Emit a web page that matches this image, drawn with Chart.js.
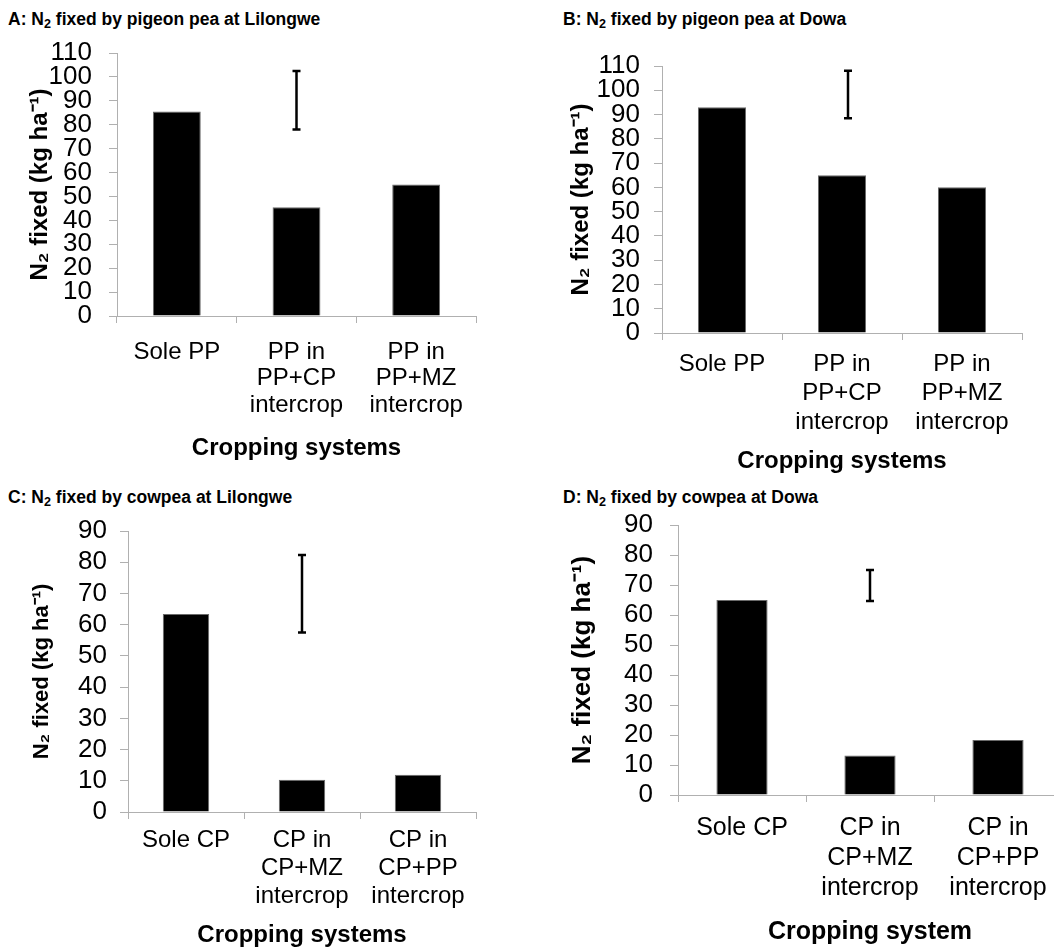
<!DOCTYPE html>
<html>
<head>
<meta charset="utf-8">
<script src="https://cdn.jsdelivr.net/npm/chart.js@4.4.0/dist/chart.umd.min.js"></script>
<style>
    html, body { margin: 0; padding: 0; background: #fff; overflow: hidden; width: 1054px; height: 947px; }
    .panel-title { position: absolute; font: bold 17.5px "Liberation Sans", Arial, sans-serif; color: #000; white-space: nowrap; line-height: 20px; }
    .panel-title sub { font-size: 0.72em; vertical-align: -0.25em; line-height: 0; }
    canvas { position: absolute; }
</style>
</head>
<body>
<div class="panel-title" style="left:8px;top:9px">A: N<sub>2</sub> fixed by pigeon pea at Lilongwe</div>
<div class="panel-title" style="left:563px;top:9px">B: N<sub>2</sub> fixed by pigeon pea at Dowa</div>
<div class="panel-title" style="left:8px;top:487px">C: N<sub>2</sub> fixed by cowpea at Lilongwe</div>
<div class="panel-title" style="left:563px;top:487px">D: N<sub>2</sub> fixed by cowpea at Dowa</div>
<canvas id="chartA"></canvas>
<canvas id="chartB"></canvas>
<canvas id="chartC"></canvas>
<canvas id="chartD"></canvas>
<script>
// categories
const ppCategories = ["Sole PP", ["PP in", "PP+CP", "intercrop"], ["PP in", "PP+MZ", "intercrop"]];
const cpCategories = ["Sole CP", ["CP in", "CP+MZ", "intercrop"], ["CP in", "CP+PP", "intercrop"]];

// N2 fixed (kg/ha)
const pigeonLilongwe = [85.5, 45.5, 55];
const pigeonDowa = [93, 65, 60];
const cowpeaLilongwe = [63.4, 10.3, 11.9];
const cowpeaDowa = [65, 13.2, 18.3];

// LSD bars [low, high]
const lsdA = [78, 102.5];
const lsdB = [88.5, 108];
const lsdC = [57.5, 82.3];
const lsdD = [64.7, 75];

// y axis ranges
const ppYMax = 110;
const cpYMax = 90;
const yStep = 10;

const FONT = "'Liberation Sans', Arial, sans-serif";
const AXIS_GREY = "#b0b0b0";

const lsdBar = {
    id: "lsdBar",
    afterDatasetsDraw(chart, args, opts) {
        if (!opts.range) return;
        const { ctx, scales: { x, y } } = chart;
        const px = x.getPixelForValue(opts.at);
        const top = y.getPixelForValue(opts.range[1]);
        const bot = y.getPixelForValue(opts.range[0]);
        ctx.save();
        ctx.strokeStyle = "#000";
        ctx.lineWidth = 2.5;
        ctx.beginPath();
        ctx.moveTo(px, top); ctx.lineTo(px, bot);
        ctx.moveTo(px - 4, top); ctx.lineTo(px + 4, top);
        ctx.moveTo(px - 4, bot); ctx.lineTo(px + 4, bot);
        ctx.stroke();
        ctx.restore();
    },
};

function makePanel(id, labels, values, lsd, p) {
    const canvas = document.getElementById(id);
    canvas.width = p.cw;
    canvas.height = p.ch;
    canvas.style.left = p.cl + "px";
    canvas.style.top = p.ct + "px";
    const yLh = p.yTitleSize * 1.2;
    const xLh = p.xTitleSize * 1.2;
    new Chart(canvas, {
        type: "bar",
        data: {
            labels: labels,
            datasets: [
                {
                    data: values,
                    backgroundColor: "#000",
                    borderColor: "#6a6a6a",
                    borderWidth: 1,
                    categoryPercentage: 0.4,
                    barPercentage: 1,
                },
            ],
        },
        plugins: [lsdBar],
        options: {
            responsive: false,
            animation: false,
            devicePixelRatio: 1,
            layout: {
                padding: { left: 0, top: p.top - p.ct, right: p.cl + p.cw - p.right, bottom: 0 },
            },
            plugins: {
                legend: { display: false },
                tooltip: { enabled: false },
                lsdBar: { range: lsd, at: p.lsdAt },
            },
            scales: {
                x: {
                    grid: { display: true, drawOnChartArea: false, drawTicks: true, tickLength: 7, color: AXIS_GREY, offset: true },
                    border: { color: AXIS_GREY, width: 1 },
                    ticks: {
                        color: "#000",
                        font: { family: FONT, size: p.xTickSize, lineHeight: p.xTickLh },
                        padding: p.xTickPad,
                        maxRotation: 0,
                        autoSkip: false,
                    },
                    title: {
                        display: true,
                        text: p.xTitle,
                        color: "#000",
                        font: { family: FONT, size: p.xTitleSize, weight: "bold", lineHeight: 1.2 },
                        padding: { top: 0, bottom: p.ct + p.ch - p.xTitleY - xLh / 2 },
                    },
                    afterFit(scale) {
                        scale.height = p.ct + p.ch - p.bottom;
                    },
                },
                y: {
                    min: 0,
                    max: p.yMax,
                    grid: { display: true, drawOnChartArea: false, drawTicks: true, tickLength: 8, color: AXIS_GREY },
                    border: { color: AXIS_GREY, width: 1 },
                    ticks: {
                        stepSize: yStep,
                        autoSkip: false,
                        maxTicksLimit: 20,
                        color: "#000",
                        font: { family: FONT, size: p.yTickSize, lineHeight: 1 },
                        padding: p.yTickPad,
                    },
                    title: {
                        display: true,
                        text: "N\u2082 fixed (kg ha\u207B\u00B9)",
                        color: "#000",
                        font: { family: FONT, size: p.yTitleSize, weight: "bold", lineHeight: 1.2 },
                        padding: { top: p.yTitleX - p.cl - yLh / 2, bottom: 0 },
                    },
                    afterFit(scale) {
                        scale.width = p.left - p.cl;
                    },
                },
            },
        },
    });
}

makePanel("chartA", ppCategories, pigeonLilongwe, lsdA, {
    cl: 0, ct: 20, cw: 500, ch: 450,
    left: 117, right: 476, top: 53, bottom: 316,
    yMax: ppYMax, yTickSize: 26, yTickPad: 17,
    xTickSize: 24, xTickLh: 1.1, xTickPad: 16,
    xTitle: "Cropping systems", xTitleSize: 24, xTitleY: 448,
    yTitleSize: 24, yTitleX: 40, lsdAt: 1,
});

makePanel("chartB", ppCategories, pigeonDowa, lsdB, {
    cl: 520, ct: 33, cw: 534, ch: 452,
    left: 662, right: 1022, top: 66, bottom: 333,
    yMax: ppYMax, yTickSize: 26, yTickPad: 14,
    xTickSize: 24, xTickLh: 1.2, xTickPad: 10,
    xTitle: "Cropping systems", xTitleSize: 24, xTitleY: 461,
    yTitleSize: 24, yTitleX: 581, lsdAt: 1.05,
});

makePanel("chartC", cpCategories, cowpeaLilongwe, lsdC, {
    cl: 0, ct: 500, cw: 500, ch: 460,
    left: 128, right: 476, top: 531, bottom: 812,
    yMax: cpYMax, yTickSize: 26, yTickPad: 13,
    xTickSize: 24, xTickLh: 1.15, xTickPad: 8,
    xTitle: "Cropping systems", xTitleSize: 24, xTitleY: 935,
    yTitleSize: 22, yTitleX: 42, lsdAt: 1,
});

makePanel("chartD", cpCategories, cowpeaDowa, lsdD, {
    cl: 520, ct: 495, cw: 560, ch: 465,
    left: 678, right: 1062, top: 523, bottom: 795,
    yMax: cpYMax, yTickSize: 26, yTickPad: 17,
    xTickSize: 25, xTickLh: 1.2, xTickPad: 11,
    xTitle: "Cropping system", xTitleSize: 25, xTitleY: 932,
    yTitleSize: 26, yTitleX: 583, lsdAt: 1,
});
</script>
</body>
</html>
